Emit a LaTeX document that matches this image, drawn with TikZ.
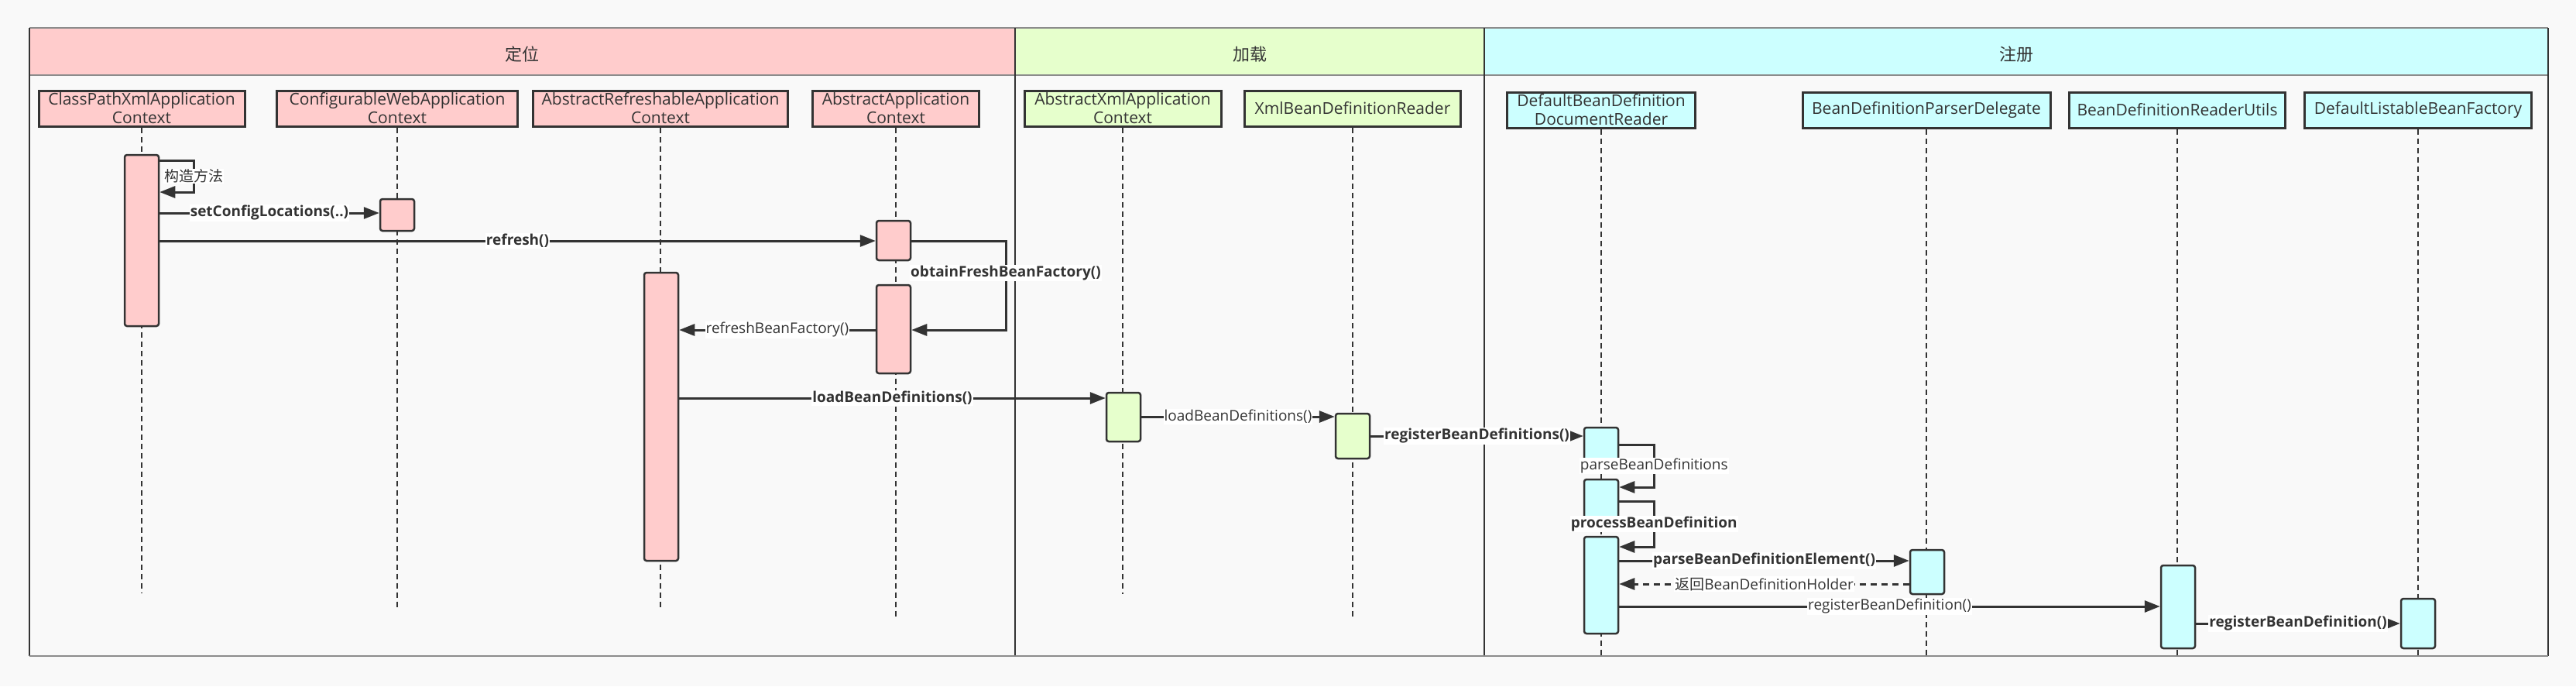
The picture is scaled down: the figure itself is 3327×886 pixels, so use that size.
\documentclass[tikz,border=0pt]{standalone}
\usepackage{fontspec}
\setmainfont{Open Sans}
\newfontfamily\cjk{Noto Sans CJK SC}
\usetikzlibrary{arrows.meta}
\definecolor{bgc}{HTML}{F9F9F9}
\definecolor{dk}{HTML}{333333}
\definecolor{pinkf}{HTML}{FFCCCC}
\definecolor{greenf}{HTML}{E6FFCC}
\definecolor{cyanf}{HTML}{CCFFFF}
\definecolor{hdline}{HTML}{8C8C8C}
\begin{document}
\begin{tikzpicture}[x=1pt,y=-1pt,
  part/.style={draw=dk, line width=3pt, minimum height=46pt, align=center, text=dk,
    font=\fontsize{21}{24}\selectfont, inner sep=0pt},
  act/.style={draw=dk, line width=2.5pt, rounded corners=3pt, minimum width=44pt, inner sep=0pt},
  msg/.style={draw=dk, line width=3pt, -{Triangle[length=20pt,width=15pt]}},
  ret/.style={msg, dash pattern=on 8pt off 6pt},
  lbl/.style={fill=white, inner sep=1pt, text=dk, font=\fontsize{19}{21}\selectfont},
  blbl/.style={fill=white, inner sep=1pt, text=dk, font=\fontsize{19}{21}\selectfont\bfseries},
  life/.style={draw=dk, line width=2pt, dash pattern=on 7pt off 5pt},
  lane/.style={font=\cjk\fontsize{22}{24}\selectfont, text=dk}
]
% background
\fill[bgc] (0,0) rectangle (3327,886);
\useasboundingbox (0,0) rectangle (3327,886);

% pool headers
\fill[pinkf] (38,36) rectangle (1311,97);
\fill[greenf] (1311,36) rectangle (1917,97);
\fill[cyanf] (1917,36) rectangle (3291,97);
\draw[hdline, line width=2.5pt] (38,36) -- (3291,36);
\draw[hdline, line width=2.5pt] (38,97) -- (3291,97);
\draw[dk, line width=1.2pt] (38,36) -- (38,847);
\draw[dk, line width=1.2pt] (1311,36) -- (1311,847);
\draw[dk, line width=1.2pt] (1917,36) -- (1917,847);
\draw[dk, line width=1.2pt] (3291,36) -- (3291,847);
\draw[hdline, line width=2.5pt] (38,847) -- (3291,847);
\node[lane] (h1) at (674,70) {定位};
\node[lane] (h2) at (1614,70) {加载};
\node[lane] (h3) at (2604,70) {注册};

% participants
\node[part, fill=pinkf, minimum width=266pt] (p1) at (183,140) {ClassPathXmlApplication\\Context};
\node[part, fill=pinkf, minimum width=311pt] (p2) at (513,140) {ConfigurableWebApplication\\Context};
\node[part, fill=pinkf, minimum width=329pt] (p3) at (853,140) {AbstractRefreshableApplication\\Context};
\node[part, fill=pinkf, minimum width=215pt] (p4) at (1157,140) {AbstractApplication\\Context};
\node[part, fill=greenf, minimum width=254pt] (p5) at (1450,140) {AbstractXmlApplication\\Context};
\node[part, fill=greenf, minimum width=279pt] (p6) at (1747,140) {XmlBeanDefinitionReader};
\node[part, fill=cyanf, minimum width=243pt] (p7) at (2068,142) {DefaultBeanDefinition\\DocumentReader};
\node[part, fill=cyanf, minimum width=320pt] (p8) at (2488,142) {BeanDefinitionParserDelegate};
\node[part, fill=cyanf, minimum width=279pt] (p9) at (2812,142) {BeanDefinitionReaderUtils};
\node[part, fill=cyanf, minimum width=293pt] (p10) at (3123,142) {DefaultListableBeanFactory};

% lifelines
\draw[life] (p1.south) -- (p1.south |- 0,765);
\draw[life] (p2.south) -- (p2.south |- 0,787);
\draw[life] (p3.south) -- (p3.south |- 0,787);
\draw[life] (p4.south) -- (p4.south |- 0,797);
\draw[life] (p5.south) -- (p5.south |- 0,767);
\draw[life] (p6.south) -- (p6.south |- 0,797);
\draw[life] (p7.south) -- (p7.south |- 0,848);
\draw[life] (p8.south) -- (p8.south |- 0,848);
\draw[life] (p9.south) -- (p9.south |- 0,848);
\draw[life] (p10.south) -- (p10.south |- 0,848);

% activations
\node[act, fill=pinkf, minimum height=221pt] (a1) at (183,310.5) {};
\node[act, fill=pinkf, minimum height=41pt] (a2) at (513,277.5) {};
\node[act, fill=pinkf, minimum height=51pt] (a3) at (1154,310.5) {};
\node[act, fill=pinkf, minimum height=114pt] (a4) at (1154,425) {};
\node[act, fill=pinkf, minimum height=372pt] (a5) at (854,538) {};
\node[act, fill=greenf, minimum height=63pt] (a6) at (1451,538.5) {};
\node[act, fill=greenf, minimum height=58pt] (a7) at (1747,563) {};
\node[act, fill=cyanf, minimum height=48pt] (a8) at (2068,576) {};
\node[act, fill=cyanf, minimum height=61pt] (a9) at (2068,649.5) {};
\node[act, fill=cyanf, minimum height=125pt] (a10) at (2068,755.5) {};
\node[act, fill=cyanf, minimum height=57pt] (a11) at (2489,738.5) {};
\node[act, fill=cyanf, minimum height=107pt] (a12) at (2813,783.5) {};
\node[act, fill=cyanf, minimum height=64pt] (a13) at (3123,805) {};

% messages
\draw[msg] (a1.east |- 0,207) -- ++(44,0) |- node[pos=0.25, lbl] {\cjk 构造方法} (a1.east |- 0,248);
\draw[msg] (a1.east |- 0,275) -- node[blbl] {setConfigLocations(..)} (a2.west |- 0,275);
\draw[msg] (a1.east |- 0,311) -- node[blbl] {refresh()} (a3.west |- 0,311);
\coordinate (c1) at (1299,311);
\coordinate (c2) at (1299,426);
\draw[msg] (a3.east |- 0,311) -- (c1) -- node[pos=0.36, blbl] {obtainFreshBeanFactory()} (c2) -- (a4.east |- 0,426);
\draw[msg] (a4.west |- 0,426) -- node[lbl] {refreshBeanFactory()} (a5.east |- 0,426);
\draw[msg] (a5.east |- 0,514) -- node[blbl] {loadBeanDefinitions()} (a6.west |- 0,514);
\draw[msg] (a6.east |- 0,538) -- node[lbl] {loadBeanDefinitions()} (a7.west |- 0,538);
\draw[msg] (a7.east |- 0,563) -- node[blbl] {registerBeanDefinitions()} (a8.west |- 0,563);
\draw[msg] (a8.east |- 0,574) -- ++(45,0) |- node[pos=0.25, lbl] {parseBeanDefinitions} (a9.east |- 0,629);
\draw[msg] (a9.east |- 0,647) -- ++(45,0) |- node[pos=0.25, blbl] {processBeanDefinition} (a10.east |- 0,706);
\draw[msg] (a10.east |- 0,724) -- node[blbl] {parseBeanDefinitionElement()} (a11.west |- 0,724);
\draw[ret] (a11.west |- 0,754) -- node[lbl] {{\cjk 返回}BeanDefinitionHolder} (a10.east |- 0,754);
\draw[msg] (a10.east |- 0,783) -- node[lbl] {registerBeanDefinition()} (a12.west |- 0,783);
\draw[msg] (a12.east |- 0,805) -- node[blbl] {registerBeanDefinition()} (a13.west |- 0,805);
\end{tikzpicture}
\end{document}
